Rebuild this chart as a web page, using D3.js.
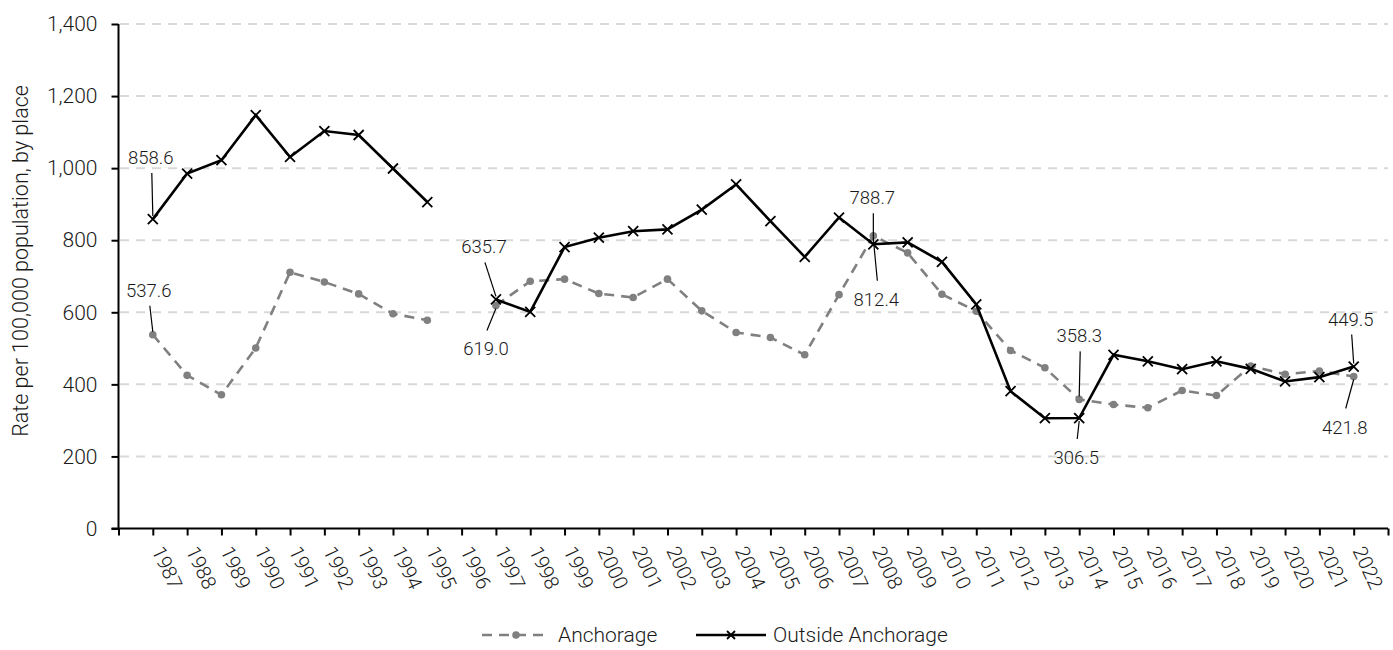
<!DOCTYPE html>
<html>
<head>
<meta charset="utf-8">
<script src="https://cdn.jsdelivr.net/npm/d3@7"></script>
<style>
  html, body { margin: 0; padding: 0; background: #fff; }
  svg { display: block; font-family: Roboto, "Liberation Sans", sans-serif; font-weight: 300; }
</style>
</head>
<body>
<svg id="chart" width="1393" height="650"></svg>
<script>
// ---- data ----
const years = d3.range(1987, 2023);
const anchorage = [537.6, 425, 371, 501, 711, 684, 651, 596, 578, null,
  619.0, 686, 692, 652, 641, 692, 604, 544, 530, 482, 649, 812.4, 765, 650,
  603, 494, 446, 358.3, 344, 335, 383, 369, 451, 428, 437, 421.8];
const outside = [858.6, 985, 1022, 1147, 1031, 1103, 1092, 999, 906, null,
  635.7, 601, 781, 807, 825, 830, 885, 955, 853, 754, 863, 788.7, 794, 740,
  622, 381, 306, 306.5, 482, 464, 442, 464, 443, 408, 420, 449.5];
const yTicks = [0, 200, 400, 600, 800, 1000, 1200, 1400];
const seriesNames = ["Anchorage", "Outside Anchorage"];
const yTitle = "Rate per 100,000 population, by place";
// annotated points: [year, series]
const annotated = [[1987, "outside"], [1987, "anchorage"], [1997, "outside"], [1997, "anchorage"],
  [2008, "outside"], [2008, "anchorage"], [2014, "anchorage"], [2014, "outside"],
  [2022, "outside"], [2022, "anchorage"]];
// label layout (offsets from the point)
const annLayout = [
  {dx: -2, dy: -55}, {dx: -4, dy: -38}, {dx: -12, dy: -46}, {dx: -10, dy: 50},
  {dx: -1, dy: -40}, {dx: 3, dy: 70}, {dx: 0, dy: -57}, {dx: -3, dy: 46},
  {dx: -3, dy: -41}, {dx: -9, dy: 57}
];

// ---- layout ----
const svg = d3.select("#chart");
const x = d3.scaleLinear().domain([1986, 2023]).range([118.5, 1388]);
const y = d3.scaleLinear().domain([0, 1400]).range([528.5, 24]);
const textColor = "#1a1a1a";

// gridlines
svg.append("g").selectAll("line").data(yTicks.filter(d => d > 0)).join("line")
  .attr("x1", 120).attr("x2", 1388)
  .attr("y1", d => y(d)).attr("y2", d => y(d))
  .attr("stroke", "#d9d9d9").attr("stroke-width", 2).attr("stroke-dasharray", "9,7");

// y axis
const yAxis = svg.append("g").attr("transform", `translate(${x(1986)},0)`)
  .call(d3.axisLeft(y).tickValues(yTicks).tickSize(7).tickPadding(14).tickFormat(d3.format(",")));
yAxis.select(".domain").attr("stroke", "#000").attr("stroke-width", 2).attr("d", `M0,${y(1400)}V${y(0)}`);
yAxis.selectAll(".tick line").attr("stroke", "#000").attr("stroke-width", 2);
yAxis.selectAll(".tick text").attr("font-size", 21).attr("fill", textColor)
  .attr("font-family", "Roboto").attr("font-weight", 300);

// x axis
const xAxis = svg.append("g").attr("transform", `translate(0,${y(0)})`)
  .call(d3.axisBottom(x).tickValues(d3.range(1986, 2024)).tickSize(7)
    .tickFormat(d => years.includes(d) ? String(d) : ""));
xAxis.select(".domain").attr("stroke", "#000").attr("stroke-width", 2).attr("d", `M${x(1986) - 7},0H${x(2023)}`);
xAxis.selectAll(".tick line").attr("stroke", "#000").attr("stroke-width", 2);
xAxis.selectAll(".tick text")
  .attr("font-size", 20).attr("fill", textColor).attr("font-family", "Roboto").attr("font-weight", 300)
  .attr("text-anchor", "start").attr("y", 0).attr("dy", 0)
  .attr("transform", "translate(-2,22) rotate(65)");

// y title
svg.append("text").attr("transform", "translate(28,261) rotate(-90)")
  .attr("text-anchor", "middle").attr("font-size", 21.5).attr("fill", textColor)
  .text(yTitle);

// lines
const line = d3.line().defined(d => d[1] != null).x(d => x(d[0])).y(d => y(d[1]));
const aData = years.map((yr, i) => [yr, anchorage[i]]);
const oData = years.map((yr, i) => [yr, outside[i]]);

svg.append("path").datum(aData).attr("d", line).attr("fill", "none")
  .attr("stroke", "#808080").attr("stroke-width", 2.6).attr("stroke-dasharray", "10,7");
svg.append("g").selectAll("circle").data(aData.filter(d => d[1] != null)).join("circle")
  .attr("cx", d => x(d[0])).attr("cy", d => y(d[1])).attr("r", 3.8).attr("fill", "#808080");

svg.append("path").datum(oData).attr("d", line).attr("fill", "none")
  .attr("stroke", "#000").attr("stroke-width", 2.6).attr("stroke-linejoin", "miter");
const cross = "M-5,-5L5,5M-5,5L5,-5";
svg.append("g").selectAll("path").data(oData.filter(d => d[1] != null)).join("path")
  .attr("transform", d => `translate(${x(d[0])},${y(d[1])})`)
  .attr("d", cross).attr("stroke", "#000").attr("stroke-width", 1.8).attr("fill", "none");

// annotations
const seriesVals = {anchorage, outside};
const annG = svg.append("g");
annotated.forEach(([yr, s], i) => {
  const v = seriesVals[s][years.indexOf(yr)];
  const px = x(yr), py = y(v);
  const L = annLayout[i];
  const tx = px + L.dx, ty = py + L.dy;
  annG.append("text").attr("x", tx).attr("y", ty).attr("text-anchor", "middle")
    .attr("font-size", 18.5).attr("fill", textColor).text(d3.format(".1f")(v));
  const above = L.dy < 0;
  const ly1 = above ? ty + 9 : ty - 25;
  const ly2 = above ? py - 3 : py + 3;
  annG.append("line").attr("x1", tx + 1).attr("y1", ly1)
    .attr("x2", px).attr("y2", ly2).attr("stroke", "#000").attr("stroke-width", 1.2);
});

// legend
const lg = svg.append("g");
lg.append("line").attr("x1", 482).attr("x2", 548).attr("y1", 635).attr("y2", 635)
  .attr("stroke", "#808080").attr("stroke-width", 2.6).attr("stroke-dasharray", "10,7");
lg.append("circle").attr("cx", 516).attr("cy", 635).attr("r", 3.8).attr("fill", "#808080");
lg.append("text").attr("x", 558).attr("y", 635).attr("dy", "0.35em").attr("font-size", 21)
  .attr("fill", textColor).text(seriesNames[0]);
lg.append("line").attr("x1", 696).attr("x2", 766).attr("y1", 635).attr("y2", 635)
  .attr("stroke", "#000").attr("stroke-width", 2.6);
lg.append("path").attr("transform", "translate(731,635)").attr("d", "M-4,-4L4,4M-4,4L4,-4")
  .attr("stroke", "#000").attr("stroke-width", 1.8);
lg.append("text").attr("x", 773).attr("y", 635).attr("dy", "0.35em").attr("font-size", 21)
  .attr("fill", textColor).text(seriesNames[1]);
</script>
</body>
</html>
